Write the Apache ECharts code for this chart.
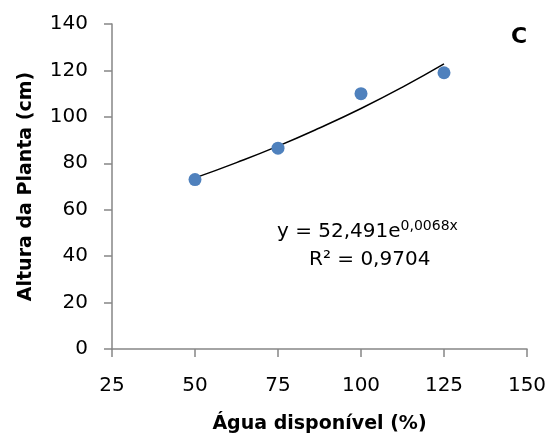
<!DOCTYPE html>
<html>
<head>
<meta charset="utf-8">
<script src="https://cdn.jsdelivr.net/npm/echarts@6/dist/echarts.min.js"></script>
<style>
  html, body { margin: 0; padding: 0; background: #fff; }
  #chart { width: 550px; height: 439px; }
</style>
</head>
<body>
<div id="chart"></div>
<script>
// dados observados
const agua = [50, 75, 100, 125];
const altura = [73, 86.5, 110, 119];
// linha de tendência
const trendX = [50, 62.5, 75, 87.5, 100, 112.5, 125];
const trendY = [73.7, 80.3, 87.4, 95.2, 103.6, 112.8, 122.8];

const font = 'DejaVu Sans';
const axisGray = '#868686';

const chart = echarts.init(document.getElementById('chart'));

chart.setOption({
    animation: false,
    textStyle: { fontFamily: font },
    grid: { left: 112, right: 23, top: 24, bottom: 87 },
    xAxis: {
        type: 'value',
        min: 25, max: 150, interval: 25,
        name: 'Água disponível (%)',
        nameLocation: 'middle',
        nameGap: 66,
        nameTextStyle: { fontSize: 19, fontWeight: 'bold', color: '#000', fontFamily: font },
        axisLine: { lineStyle: { color: axisGray, width: 1.5 } },
        axisTick: { length: 8, inside: false, lineStyle: { color: axisGray, width: 1.5 } },
        axisLabel: { fontSize: 20, color: '#000', margin: 27 },
        splitLine: { show: false }
    },
    yAxis: {
        type: 'value',
        min: 0, max: 140, interval: 20,
        name: 'Altura da Planta (cm)',
        nameLocation: 'middle',
        nameGap: 76,
        nameTextStyle: { fontSize: 19, fontWeight: 'bold', color: '#000', fontFamily: font },
        axisLine: { show: true, lineStyle: { color: axisGray, width: 1.5 } },
        axisTick: { show: true, length: 8, lineStyle: { color: axisGray, width: 1.5 } },
        axisLabel: { fontSize: 20, color: '#000', margin: 24, padding: [4, 0, 0, 0] },
        splitLine: { show: false }
    },
    series: [
        {
            type: 'line',
            data: trendX.map((x, i) => [x, trendY[i]]),
            smooth: true,
            showSymbol: false,
            lineStyle: { color: '#000', width: 1.5 },
            z: 1
        },
        {
            type: 'scatter',
            data: agua.map((x, i) => [x, altura[i]]),
            symbolSize: 13,
            itemStyle: { color: '#4f81bd', opacity: 1 },
            z: 2
        }
    ],
    graphic: [
        {
            type: 'text',
            x: 277, y: 242,
            style: {
                text: '{n|y = 52,491e}{s|0,0068x}',
                verticalAlign: 'bottom',
                rich: {
                    n: { fontSize: 20, fontFamily: font, fill: '#000', verticalAlign: 'bottom' },
                    s: { fontSize: 14, fontFamily: font, fill: '#000', verticalAlign: 'bottom', padding: [0, 0, 9, 0] }
                }
            }
        },
        {
            type: 'text',
            x: 309, y: 270,
            style: { text: 'R² = 0,9704', fontSize: 20, fontFamily: font, fill: '#000', verticalAlign: 'bottom' }
        },
        {
            type: 'text',
            x: 511, y: 26,
            style: { text: 'C', fontSize: 22, fontWeight: 'bold', fontFamily: font, fill: '#000' }
        }
    ]
});
</script>
</body>
</html>
